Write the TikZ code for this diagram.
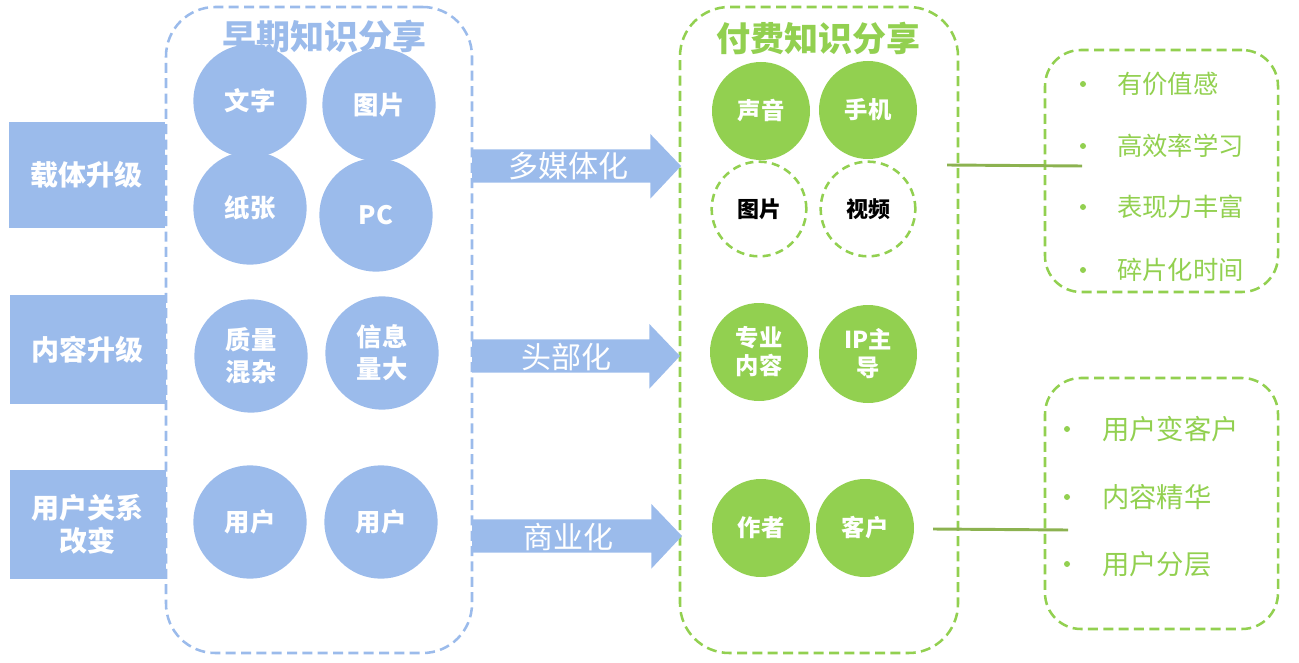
\documentclass[tikz,border=0pt]{standalone}
\usepackage{fontspec}
\setmainfont{Noto Sans CJK SC}
\definecolor{bl}{RGB}{155,187,235}
\definecolor{gr}{RGB}{146,208,80}
\definecolor{ol}{RGB}{140,178,80}
\tikzset{
  x=0.75pt, y=-0.75pt,
  sidebox/.style={fill=bl, minimum width=117pt, minimum height=80pt, inner sep=0pt, text=white, font=\fontsize{21}{25}\selectfont\bfseries, align=center},
  container/.style={draw=#1, line width=1.9pt, dash pattern=on 7.5pt off 4pt, rounded corners=37pt, inner sep=0pt},
  bcirc/.style={circle, fill=bl, minimum size=85pt, inner sep=0pt, text=white, font=\fontsize{19}{24}\selectfont\bfseries, align=center},
  gcirc/.style={circle, fill=gr, minimum size=73.5pt, inner sep=0pt, text=white, font=\fontsize{17.5}{21}\selectfont\bfseries, align=center},
  gdcirc/.style={circle, draw=gr, fill=white, line width=1.9pt, dash pattern=on 6pt off 4pt, minimum size=71pt, inner sep=0pt, text=black, font=\fontsize{16.5}{20}\selectfont\bfseries},
  title/.style={font=\fontsize{25.5}{28}\selectfont\bfseries, text=#1, inner sep=0pt},
  arrlabel/.style={text=white, font=\fontsize{22.5}{26}\selectfont, inner sep=0pt},
  item/.style={text=gr, font=\fontsize{19}{22}\selectfont, anchor=west, inner sep=0pt},
  bullet/.style={circle, fill=gr, minimum size=4.5pt, inner sep=0pt},
  link/.style={draw=ol, line width=2.2pt},
  blockarrow/.style={fill=bl}
}
\begin{document}
\begin{tikzpicture}
\useasboundingbox (0,0) rectangle (1299,663);
% left side boxes
\node[sidebox, minimum width=117pt, minimum height=79.5pt] (s1) at (87,175) {载体升级};
\node[sidebox, minimum height=82pt] (s2) at (87.5,349.5) {内容升级};
\node[sidebox, minimum height=82pt] (s3) at (87.5,524.5) {用户关系\\改变};
% containers
\node[container=bl, minimum width=229.5pt, minimum height=484.5pt] (L) at (319,330) {};
\node[container=gr, minimum width=208.5pt, minimum height=484.5pt] (R) at (819,330) {};
% blue circles
\node[bcirc] (b1) at (250,101) {文字};
\node[bcirc] (b2) at (379,105) {图片};
\node[bcirc] (b3) at (250,208) {纸张};
\node[bcirc] (b4) at (376,215) {PC};
\node[bcirc] (b5) at (251,356) {质量\\混杂};
\node[bcirc] (b6) at (382,353) {信息\\量大};
\node[bcirc] (b7) at (250,522) {用户};
\node[bcirc] (b8) at (381,522) {用户};
\node[title=bl] (tL) at (324,36) {早期知识分享};
% green circles
\node[gcirc] (g1) at (761,111) {声音};
\node[gcirc] (g2) at (868,110) {手机};
\node[gdcirc] (g3) at (759,209) {图片};
\node[gdcirc] (g4) at (868,209) {视频};
\node[gcirc] (g5) at (759,352) {专业\\内容};
\node[gcirc] (g6) at (868,354) {IP主\\导};
\node[gcirc] (g7) at (761,528) {作者};
\node[gcirc] (g8) at (865,528) {客户};
\node[title=gr] (tR) at (818,38) {付费知识分享};
% block arrows
\coordinate (a1) at (472,166);
\coordinate (a1t) at (681,166);
\fill[blockarrow] ([yshift=12.4pt]a1) -- ([xshift=-23pt,yshift=12.4pt]a1t) -- ([xshift=-23pt,yshift=24pt]a1t) -- (a1t) -- ([xshift=-23pt,yshift=-24.5pt]a1t) -- ([xshift=-23pt,yshift=-12.4pt]a1t) -- ([yshift=-12.4pt]a1) -- cycle;
\node[arrlabel] (l1) at (568,166) {多媒体化};
\coordinate (a2) at (472,356);
\coordinate (a2t) at (680,356);
\fill[blockarrow] ([yshift=12.4pt]a2) -- ([xshift=-23pt,yshift=12.4pt]a2t) -- ([xshift=-23pt,yshift=24pt]a2t) -- (a2t) -- ([xshift=-23pt,yshift=-24.5pt]a2t) -- ([xshift=-23pt,yshift=-12.4pt]a2t) -- ([yshift=-12.4pt]a2) -- cycle;
\node[arrlabel] (l2) at (566,357) {头部化};
\coordinate (a3) at (472,536);
\coordinate (a3t) at (682,536);
\fill[blockarrow] ([yshift=12.4pt]a3) -- ([xshift=-23pt,yshift=12.4pt]a3t) -- ([xshift=-23pt,yshift=24pt]a3t) -- (a3t) -- ([xshift=-23pt,yshift=-24.5pt]a3t) -- ([xshift=-23pt,yshift=-12.4pt]a3t) -- ([yshift=-12.4pt]a3) -- cycle;
\node[arrlabel] (l3) at (568,537) {商业化};
% right bullet boxes
\node[container=gr, rounded corners=27pt, minimum width=174.75pt, minimum height=181.5pt] (B1) at (1161.5,171) {};
\node[container=gr, rounded corners=27pt, minimum width=174.75pt, minimum height=188.25pt] (B2) at (1161.5,503.5) {};
\node[bullet] (p1) at (1083,84) {};
\node[item] (i1) at (1117,84) {有价值感};
\node[bullet] (p2) at (1083,146) {};
\node[item] (i2) at (1117,146) {高效率学习};
\node[bullet] (p3) at (1083,207) {};
\node[item] (i3) at (1117,207) {表现力丰富};
\node[bullet] (p4) at (1083,270) {};
\node[item] (i4) at (1117,270) {碎片化时间};
\node[bullet] (q1) at (1067,429) {};
\node[item, font=\fontsize{20.5}{24}\selectfont] (j1) at (1102,429) {用户变客户};
\node[bullet] (q2) at (1067,497) {};
\node[item, font=\fontsize{20.5}{24}\selectfont] (j2) at (1102,497) {内容精华};
\node[bullet] (q3) at (1067,564) {};
\node[item, font=\fontsize{20.5}{24}\selectfont] (j3) at (1102,564) {用户分层};
% connector lines
\coordinate (c1a) at (947,165);
\coordinate (c1b) at (1082,166);
\draw[link] (c1a) -- (c1b);
\coordinate (c2a) at (933,529);
\coordinate (c2b) at (1068,530);
\draw[link] (c2a) -- (c2b);
\end{tikzpicture}
\end{document}
